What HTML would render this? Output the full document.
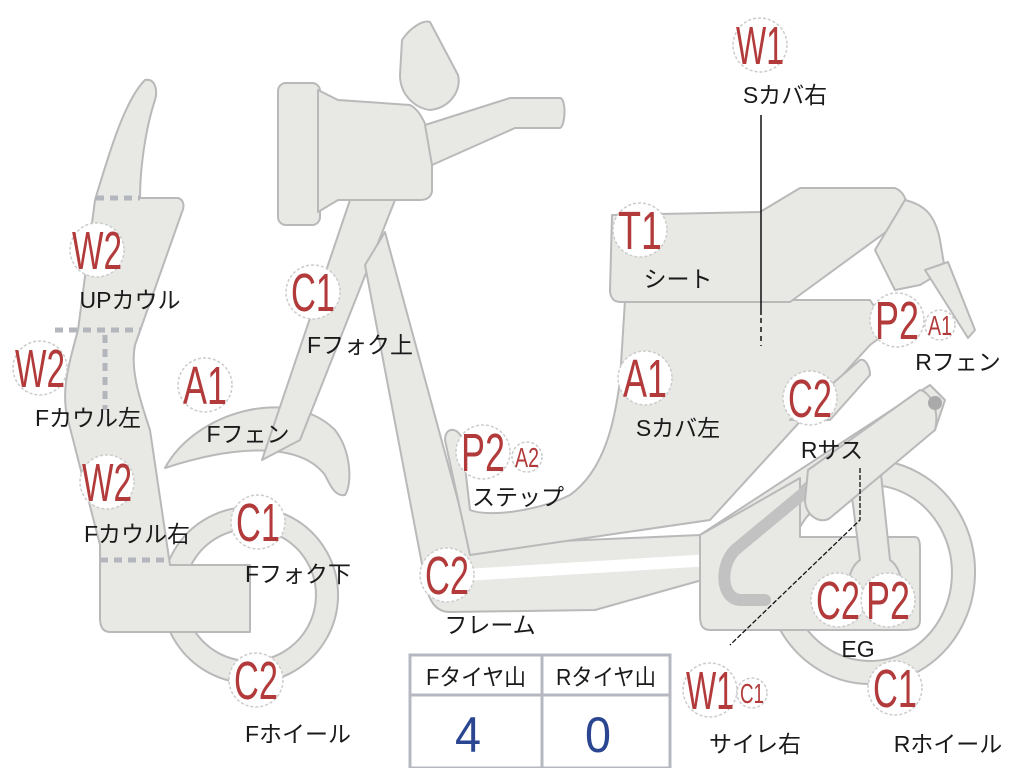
<!DOCTYPE html>
<html><head><meta charset="utf-8"><style>
html,body{margin:0;padding:0;background:#fff;width:1024px;height:768px;overflow:hidden}
svg{display:block}
.p{fill:#e8e8e5;stroke:#b9b9b9;stroke-width:2;stroke-linejoin:round}
.c{fill:#fff;stroke:#ccc;stroke-width:1.5;stroke-dasharray:3 2}
.r{fill:#b23a3a;font-family:"Liberation Sans",sans-serif;font-size:54px;text-anchor:middle}
.rs{fill:#b23a3a;font-family:"Liberation Sans",sans-serif;font-size:28px;text-anchor:middle}
.t{fill:#1a1a1a;font-family:"Liberation Sans","Noto Sans CJK JP",sans-serif;font-size:23px;text-anchor:middle}
</style></head><body>
<svg width="1024" height="768" viewBox="0 0 1024 768">
<!-- front fender -->
<path class="p" d="M165,468 C195,412 290,385 335,430 C352,452 352,485 345,495 C335,497 330,485 325,475 C300,442 235,445 165,468Z"/>
<!-- front wheel -->
<path class="p" fill-rule="evenodd" d="M250,507a88,88 0 1,0 0.1,0Z M250,529a66,66 0 1,1 -0.1,0Z"/>
<!-- fork -->
<path class="p" d="M350,200 L395,200 L300,440 L262,460 Z"/>
<!-- left cowl -->
<path class="p" d="M95,200 C110,150 125,100 145,80 C155,78 158,90 155,100 C145,130 140,170 140,198 L178,198 C185,200 184,208 182,212 L135,345 C130,370 140,400 150,430 L170,565 L250,565 L250,632 L110,632 C102,632 100,625 100,618 L100,545 L68,420 C60,390 70,360 78,330 Z"/>
<path d="M96,198 H140 M55,330 H140 M105,335 V410 M100,560 H170" stroke="#b3b6bd" stroke-width="5" stroke-dasharray="8 6" fill="none"/>
<!-- headlight -->
<rect class="p" x="278" y="83" width="42" height="142" rx="8"/>
<path class="p" d="M318,90 L338,100 L410,105 C420,110 432,130 432,160 L432,190 C432,196 428,200 420,200 L338,200 L318,212Z"/>
<path class="p" d="M402,40 C412,25 425,20 430,22 L458,75 C462,90 450,108 430,110 C415,108 400,95 400,75Z"/>
<path class="p" d="M425,125 L510,98 L560,98 C566,98 566,125 560,128 L515,128 L432,165Z"/>
<!-- frame -->
<path class="p" d="M365,265 L385,232 L470,545 L700,535 L930,385 L945,400 L935,430 L720,575 L595,610 L450,612 C435,612 428,600 425,580Z"/>
<path d="M465,575 L712,560 L930,418" stroke="#fff" stroke-width="12" fill="none"/>
<!-- seat cover body -->
<path class="p" d="M625,300 L870,300 L890,330 L870,345 L710,520 L470,555 L445,440 C445,425 460,428 462,440 L470,510 C490,518 540,510 570,495 C605,470 615,420 620,380Z"/>
<!-- seat -->
<path class="p" d="M612,215 L760,212 L800,188 L895,188 C905,192 910,205 905,218 L790,302 L620,302 C612,302 610,295 610,290Z"/>
<path class="p" d="M905,200 C925,205 935,215 940,240 L945,270 L920,285 L895,290 L875,250Z"/>
<path class="p" d="M925,270 L948,262 L975,330 L968,338 Z"/>
<!-- rear wheel -->
<path class="p" fill-rule="evenodd" d="M870,460a105,112 0 1,0 0.1,0Z M870,485a82,88 0 1,1 -0.1,0Z"/>
<!-- engine -->
<path class="p" d="M700,535 L800,478 L800,537 L915,537 C920,537 920,545 920,550 L920,620 C920,628 915,630 905,630 L710,630 C702,630 700,625 700,615Z"/>
<path d="M805,492 L735,550 C720,565 720,598 740,600 L765,600" stroke="#c2c2c2" stroke-width="12" fill="none" stroke-linecap="round"/>
<path class="p" d="M848,465 L880,465 L890,560 C905,570 905,600 890,610 L860,610 C845,600 845,570 860,560Z"/>
<path class="p" d="M808,470 L920,390 C930,392 940,410 935,430 L830,518 C820,525 805,515 805,500Z"/>
<path class="p" d="M790,420 L860,360 C866,358 870,368 870,375 L830,420Z"/>
<circle cx="935" cy="403" r="7" fill="#aaa"/>
<!-- lines -->
<path d="M761,115 V315" stroke="#111" stroke-width="1.5" fill="none"/>
<path d="M761,318 V346" stroke="#111" stroke-width="1.5" stroke-dasharray="5 4" fill="none"/>
<path d="M860,468 V520 L730,645" stroke="#111" stroke-width="1.3" stroke-dasharray="5 2" fill="none"/>
<!-- table -->
<rect x="410" y="655" width="260" height="113" fill="#fff" stroke="#b5b8c0" stroke-width="3"/>
<path d="M410,695 H670 M542,655 V768" stroke="#b5b8c0" stroke-width="3"/>
<text class="t" x="476" y="685" textLength="100" lengthAdjust="spacingAndGlyphs">Fタイヤ山</text>
<text class="t" x="606" y="685" textLength="100" lengthAdjust="spacingAndGlyphs">Rタイヤ山</text>
<text x="468" y="752" font-family="Liberation Sans,sans-serif" font-size="50" fill="#2b4690" text-anchor="middle" textLength="26" lengthAdjust="spacingAndGlyphs">4</text>
<text x="598" y="752" font-family="Liberation Sans,sans-serif" font-size="50" fill="#2b4690" text-anchor="middle" textLength="26" lengthAdjust="spacingAndGlyphs">0</text>
<!-- badges -->
<g>
<circle class="c" cx="760" cy="45" r="27"/><text class="r" x="760" y="64" textLength="48" lengthAdjust="spacingAndGlyphs">W1</text>
<circle class="c" cx="640" cy="230" r="27"/><text class="r" x="640" y="249" textLength="44" lengthAdjust="spacingAndGlyphs">T1</text>
<circle class="c" cx="897" cy="320" r="27"/><text class="r" x="897" y="339" textLength="44" lengthAdjust="spacingAndGlyphs">P2</text>
<circle class="c" cx="940" cy="325" r="15"/><text class="rs" x="940" y="335" textLength="24" lengthAdjust="spacingAndGlyphs">A1</text>
<circle class="c" cx="645" cy="378" r="27"/><text class="r" x="645" y="397" textLength="44" lengthAdjust="spacingAndGlyphs">A1</text>
<circle class="c" cx="810" cy="398" r="27"/><text class="r" x="810" y="417" textLength="44" lengthAdjust="spacingAndGlyphs">C2</text>
<circle class="c" cx="483" cy="452" r="27"/><text class="r" x="483" y="471" textLength="44" lengthAdjust="spacingAndGlyphs">P2</text>
<circle class="c" cx="527" cy="457" r="15"/><text class="rs" x="527" y="467" textLength="24" lengthAdjust="spacingAndGlyphs">A2</text>
<circle class="c" cx="447" cy="575" r="27"/><text class="r" x="447" y="594" textLength="44" lengthAdjust="spacingAndGlyphs">C2</text>
<circle class="c" cx="838" cy="600" r="27"/><text class="r" x="838" y="619" textLength="44" lengthAdjust="spacingAndGlyphs">C2</text>
<circle class="c" cx="888" cy="600" r="27"/><text class="r" x="888" y="619" textLength="44" lengthAdjust="spacingAndGlyphs">P2</text>
<circle class="c" cx="895" cy="688" r="27"/><text class="r" x="895" y="707" textLength="44" lengthAdjust="spacingAndGlyphs">C1</text>
<circle class="c" cx="710" cy="690" r="27"/><text class="r" x="710" y="709" textLength="48" lengthAdjust="spacingAndGlyphs">W1</text>
<circle class="c" cx="752" cy="693" r="15"/><text class="rs" x="752" y="703" textLength="24" lengthAdjust="spacingAndGlyphs">C1</text>
<circle class="c" cx="256" cy="680" r="27"/><text class="r" x="256" y="699" textLength="44" lengthAdjust="spacingAndGlyphs">C2</text>
<circle class="c" cx="258" cy="522" r="27"/><text class="r" x="258" y="541" textLength="44" lengthAdjust="spacingAndGlyphs">C1</text>
<circle class="c" cx="205" cy="385" r="27"/><text class="r" x="205" y="404" textLength="44" lengthAdjust="spacingAndGlyphs">A1</text>
<circle class="c" cx="107" cy="482" r="27"/><text class="r" x="107" y="501" textLength="50" lengthAdjust="spacingAndGlyphs">W2</text>
<circle class="c" cx="40" cy="368" r="27"/><text class="r" x="40" y="387" textLength="50" lengthAdjust="spacingAndGlyphs">W2</text>
<circle class="c" cx="97" cy="250" r="27"/><text class="r" x="97" y="269" textLength="50" lengthAdjust="spacingAndGlyphs">W2</text>
<circle class="c" cx="313" cy="292" r="27"/><text class="r" x="313" y="311" textLength="44" lengthAdjust="spacingAndGlyphs">C1</text>
</g>
<g>
<text class="t" x="785" y="103">Sカバ右</text>
<text class="t" x="678" y="287">シート</text>
<text class="t" x="958" y="370">Rフェン</text>
<text class="t" x="678" y="436">Sカバ左</text>
<text class="t" x="832" y="458">Rサス</text>
<text class="t" x="518" y="505">ステップ</text>
<text class="t" x="490" y="633">フレーム</text>
<text class="t" x="858" y="657">EG</text>
<text class="t" x="948" y="752">Rホイール</text>
<text class="t" x="755" y="752">サイレ右</text>
<text class="t" x="298" y="742">Fホイール</text>
<text class="t" x="298" y="582">Fフォク下</text>
<text class="t" x="248" y="442">Fフェン</text>
<text class="t" x="137" y="542">Fカウル右</text>
<text class="t" x="88" y="426">Fカウル左</text>
<text class="t" x="130" y="308">UPカウル</text>
<text class="t" x="360" y="353">Fフォク上</text>
</g>
</svg>
</body></html>
